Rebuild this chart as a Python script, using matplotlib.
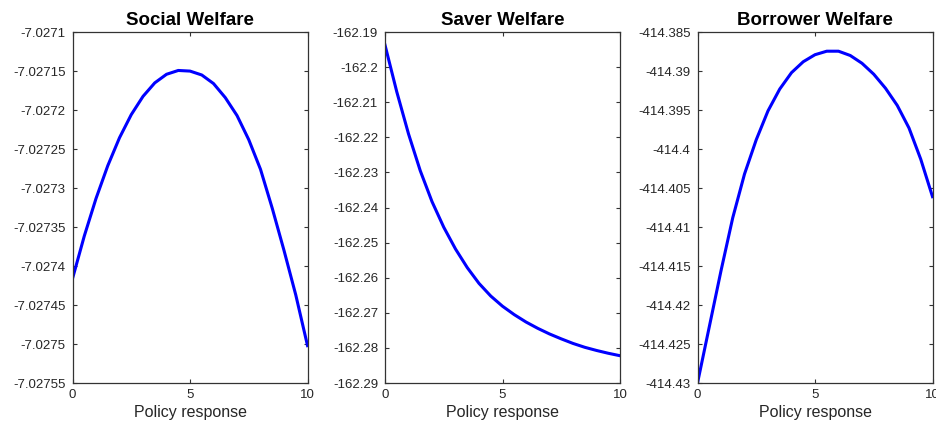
import numpy as np
import matplotlib
matplotlib.use('Agg')
import matplotlib.pyplot as plt
from matplotlib.ticker import FixedLocator, FormatStrFormatter

plt.rcParams['font.family'] = ['Liberation Sans', 'DejaVu Sans']

# policy response grid
policy = [0, 0.5, 1, 1.5, 2, 2.5, 3, 3.5, 4, 4.5, 5,
          5.5, 6, 6.5, 7, 7.5, 8, 8.5, 9, 9.5, 10]

social = [-7.0274160, -7.0273615, -7.0273133, -7.0272713, -7.0272354,
          -7.0272058, -7.0271824, -7.0271651, -7.0271541, -7.0271492,
          -7.0271500, -7.0271550, -7.0271660, -7.0271840, -7.0272070,
          -7.0272380, -7.0272760, -7.0273260, -7.0273800, -7.0274370,
          -7.0275020]

saver = [-162.1937, -162.2070, -162.2190, -162.2295, -162.2383, -162.2456,
         -162.2518, -162.2571, -162.2616, -162.2652, -162.2681, -162.2705,
         -162.2726, -162.2744, -162.2760, -162.2774, -162.2787, -162.2798,
         -162.2807, -162.2815, -162.2822]

borrower = [-414.4300, -414.4228, -414.4156, -414.4088, -414.4032, -414.3988,
            -414.3951, -414.3923, -414.3902, -414.3888, -414.3879, -414.38745,
            -414.38745, -414.3880, -414.3890, -414.3904, -414.3922, -414.3944,
            -414.3973, -414.4013, -414.4061]

titles = ['Social Welfare', 'Saver Welfare', 'Borrower Welfare']
series = [social, saver, borrower]
y_ticks = [
    [-7.02755, -7.0275, -7.02745, -7.0274, -7.02735, -7.0273,
     -7.02725, -7.0272, -7.02715, -7.0271],
    [-162.29, -162.28, -162.27, -162.26, -162.25, -162.24,
     -162.23, -162.22, -162.21, -162.2, -162.19],
    [-414.43, -414.425, -414.42, -414.415, -414.41, -414.405,
     -414.4, -414.395, -414.39, -414.385],
]
x_ticks = [0, 5, 10]

fig = plt.figure(figsize=(9.37, 4.29), dpi=100)
lefts = [0.0774, 0.4109, 0.7444]
axc = '#333333'

for left, title, vals, yt in zip(lefts, titles, series, y_ticks):
    ax = fig.add_axes([left, 0.107, 0.2508, 0.8182])
    ax.plot(policy, vals, color='#0000ff', lw=2.2, solid_joinstyle='round')
    ax.set_xlim(0, 10)
    ax.set_ylim(yt[0], yt[-1])
    ax.xaxis.set_major_locator(FixedLocator(x_ticks))
    ax.yaxis.set_major_locator(FixedLocator(yt))
    ax.yaxis.set_major_formatter(FormatStrFormatter('%g'))
    ax.tick_params(direction='in', length=3, width=0.8, color=axc,
                   top=True, right=True, labelsize=9.5, labelcolor='#262626')
    ax.tick_params(axis='y', pad=5)
    ax.tick_params(axis='x', pad=4)
    for s in ax.spines.values():
        s.set_color(axc)
        s.set_linewidth(0.9)
    ax.set_title(title, fontsize=13.5, fontweight='bold', pad=5)
    ax.set_xlabel('Policy response', fontsize=11.5, color='#262626', labelpad=3)

plt.savefig('out.png', dpi=100)
